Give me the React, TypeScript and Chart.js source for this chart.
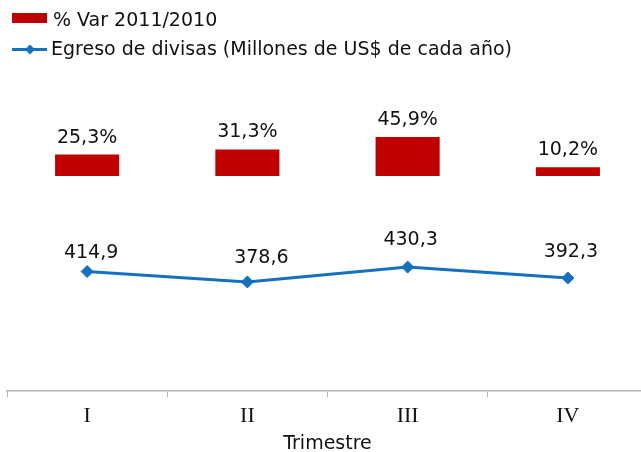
import { useEffect, useRef } from "react";
import { Chart, registerables } from "chart.js";

Chart.register(...registerables);

const categories = ["I", "II", "III", "IV"];
const varPct = [25.3, 31.3, 45.9, 10.2];
const egreso = [414.9, 378.6, 430.3, 392.3];
const seriesLabels = [
  "% Var 2011/2010",
  "Egreso de divisas (Millones de US$ de cada año)",
];
const axisTitle = "Trimestre";

const RED = "#C00000";
const BLUE = "#1570C0";
const TEXT = "#111111";
const AXIS = "#b4b4b4";
const SANS = "'DejaVu Sans', Verdana, sans-serif";

const fmt = (v: number) => v.toFixed(1).replace(".", ",");

const labelsPlugin = {
  id: "customLabels",
  afterDraw(chart: any, _args: any, opts: any) {
    const ctx = chart.ctx as CanvasRenderingContext2D;
    ctx.save();
    ctx.font = `19px ${SANS}`;
    ctx.fillStyle = TEXT;
    ctx.textAlign = "center";
    ctx.textBaseline = "alphabetic";
    // bar labels
    const barMeta = chart.getDatasetMeta(0);
    barMeta.data.forEach((el: any, i: number) => {
      ctx.fillText(fmt(varPct[i]) + "%", el.x, el.y - 12);
    });
    // line labels
    const lineMeta = chart.getDatasetMeta(1);
    const offs: number[][] = opts.lineOffsets || [];
    lineMeta.data.forEach((el: any, i: number) => {
      const o = offs[i] || [3, -19];
      ctx.fillText(fmt(egreso[i]), el.x + o[0], el.y + o[1]);
    });

    // legend
    ctx.textAlign = "left";
    ctx.fillStyle = RED;
    ctx.fillRect(12, 13, 35, 10);
    ctx.fillStyle = TEXT;
    ctx.fillText(seriesLabels[0], 53, 25.5);

    ctx.strokeStyle = BLUE;
    ctx.lineWidth = 3;
    ctx.beginPath();
    ctx.moveTo(12, 49.5);
    ctx.lineTo(47, 49.5);
    ctx.stroke();
    ctx.fillStyle = BLUE;
    ctx.beginPath();
    ctx.moveTo(25, 49.5);
    ctx.lineTo(30, 44.5);
    ctx.lineTo(35, 49.5);
    ctx.lineTo(30, 54.5);
    ctx.closePath();
    ctx.fill();
    ctx.fillStyle = TEXT;
    ctx.fillText(seriesLabels[1], 51, 55);
    ctx.restore();
  },
};

export default function App() {
  const ref = useRef<HTMLCanvasElement | null>(null);

  useEffect(() => {
    if (!ref.current) return;
    const chart = new Chart(ref.current, {
      type: "bar",
      data: {
        labels: categories,
        datasets: [
          {
            type: "bar",
            label: seriesLabels[0],
            data: varPct,
            backgroundColor: RED,
            yAxisID: "y1",
            barPercentage: 0.4,
            categoryPercentage: 1,
            order: 2,
          },
          {
            type: "line",
            label: seriesLabels[1],
            data: egreso,
            borderColor: BLUE,
            backgroundColor: BLUE,
            borderWidth: 3,
            pointStyle: "rectRot",
            pointRadius: 6,
            pointBorderWidth: 1,
            pointBackgroundColor: BLUE,
            pointBorderColor: BLUE,
            yAxisID: "y2",
            order: 1,
          } as any,
        ],
      },
      options: {
        responsive: false,
        animation: false,
        layout: { padding: { top: 80, left: 7, right: 0, bottom: 0 } },
        plugins: {
          legend: { display: false },
          tooltip: { enabled: false },
          customLabels: {
            lineOffsets: [
              [4, -14],
              [14, -19],
              [3, -22],
              [3, -21],
            ],
          },
        } as any,
        scales: {
          x: {
            offset: true,
            grid: {
              offset: true,
              drawOnChartArea: false,
              tickLength: 6,
              color: AXIS,
              tickColor: AXIS,
            },
            border: { color: AXIS, width: 1.5 },
            ticks: {
              color: TEXT,
              padding: 6,
              font: { family: "'Liberation Serif', serif", size: 22 },
            },
            title: {
              display: true,
              text: axisTitle,
              color: TEXT,
              font: { family: SANS, size: 19, lineHeight: 0.8 },
              padding: { top: 0, bottom: 0 },
            },
            afterFit: (s: any) => {
              s.height = 61;
            },
          },
          y1: { display: false, min: -253, max: 113 },
          y2: { display: false, min: 0, max: 1080, position: "right" },
        },
      },
      plugins: [labelsPlugin],
    });
    return () => chart.destroy();
  }, []);

  return (
    <div
      style={{
        position: "fixed",
        left: 0,
        top: 0,
        width: 641,
        height: 452,
        overflow: "hidden",
        background: "#fff",
      }}
    >
      <canvas ref={ref} width={655} height={452} style={{ display: "block" }} />
    </div>
  );
}
